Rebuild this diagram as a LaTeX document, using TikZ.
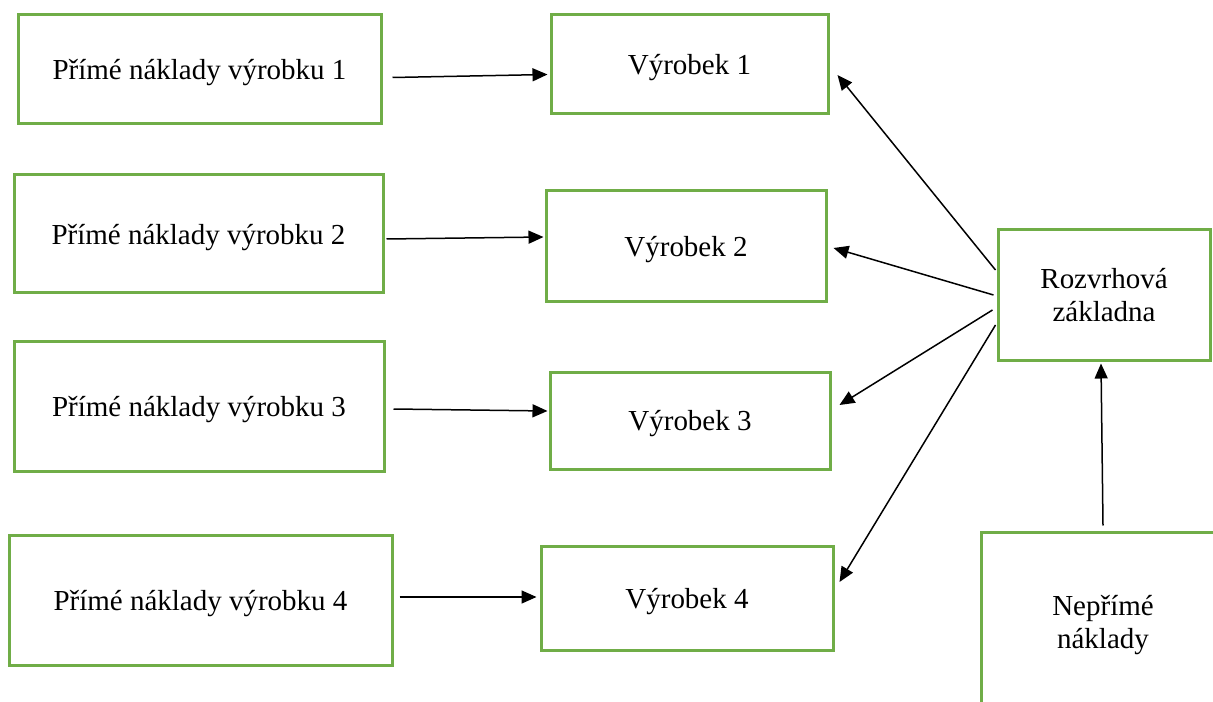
\documentclass[tikz,border=0pt]{standalone}
\usepackage{fontspec}
\setmainfont{Liberation Serif}
\usetikzlibrary{arrows.meta,calc}
\definecolor{boxgreen}{RGB}{112,173,71}
\newdimen\pxu \pxu=0.02cm
\tikzset{
  box/.style={draw=boxgreen, line width=3*\pxu, inner sep=0pt, align=center,
    text depth=0pt, font=\fontsize{16.5}{19}\selectfont},
  arr/.style={-{Triangle[length=0.3cm,width=0.26cm]}, line width=1.5*\pxu}
}

\begin{document}
\begin{tikzpicture}[x=0.02cm, y=-0.02cm]
  \useasboundingbox (0,0) rectangle (1213,702);
  \clip (0,0) rectangle (1213,702);

  % direct costs
  \node [box, minimum width=363*\pxu, minimum height=109*\pxu] (p1) at (199.5,69.5) {Přímé náklady výrobku 1};
  \node [box, minimum width=369*\pxu, minimum height=118*\pxu] (p2) at (198.5,234) {Přímé náklady výrobku 2};
  \node [box, minimum width=370*\pxu, minimum height=129*\pxu] (p3) at (199,406.5) {Přímé náklady výrobku 3};
  \node [box, minimum width=383*\pxu, minimum height=130*\pxu] (p4) at (200.5,600) {Přímé náklady výrobku 4};

  % products
  \node [box, minimum width=277*\pxu, minimum height=99*\pxu] (v1) at (689.5,64.5) {Výrobek 1};
  \node [box, minimum width=280*\pxu, minimum height=111*\pxu] (v2) at (686,246.5) {Výrobek 2};
  \node [box, minimum width=280*\pxu, minimum height=97*\pxu] (v3) at (690,420.5) {Výrobek 3};
  \node [box, minimum width=292*\pxu, minimum height=104*\pxu] (v4) at (687,598) {Výrobek 4};

  % overhead
  \node [box, minimum width=212*\pxu, minimum height=130*\pxu] (r) at (1104,295) {Rozvrhová\\základna};
  \node [box, minimum width=244*\pxu, minimum height=180*\pxu] (n) at (1103,622) {Nepřímé\\náklady};

  \draw [arr] ($(p1.east)+(10,8)$) -- ($(v1.west)+(-2,10)$);
  \draw [arr] ($(p2.east)+(2,5)$) -- ($(v2.west)+(-1,-9.5)$);
  \draw [arr] ($(p3.east)+(8,2.5)$) -- ($(v3.west)+(-1,-9.5)$);
  \draw [arr] ($(p4.east)+(6,-3)$) -- ($(v4.west)+(-3,-1)$);

  \draw [arr] ($(r.west)+(-1,-25)$) -- ($(v1.east)+(8,10.5)$);
  \draw [arr] ($(r.west)+(-3,0)$) -- ($(v2.east)+(6,1.5)$);
  \draw [arr] ($(r.west)+(-4,15)$) -- ($(v3.east)+(8,-15.5)$);
  \draw [arr] ($(r.west)+(-1,30)$) -- ($(v4.east)+(5,-16)$);

  \draw [arr] ($(n.north)+(0,-5)$) -- ($(r.south)+(-3,2)$);
\end{tikzpicture}
\end{document}
